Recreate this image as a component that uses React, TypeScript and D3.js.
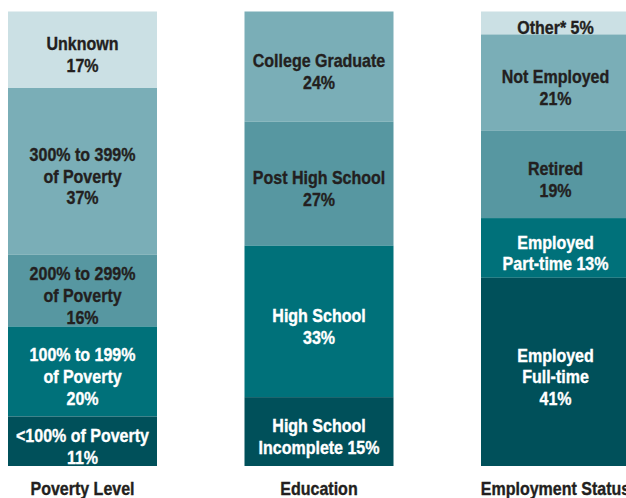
import React from "react";
import * as d3 from "d3";

const categories = ["Poverty Level", "Education", "Employment Status"];

// values listed bottom-to-top
const povertyValues = [11, 20, 16, 37, 17];
const povertyLabels = [
  ["<100% of Poverty", "11%"],
  ["100% to 199%", "of Poverty", "20%"],
  ["200% to 299%", "of Poverty", "16%"],
  ["300% to 399%", "of Poverty", "37%"],
  ["Unknown", "17%"],
];
const educationValues = [15, 33, 27, 24];
const educationLabels = [
  ["High School", "Incomplete 15%"],
  ["High School", "33%"],
  ["Post High School", "27%"],
  ["College Graduate", "24%"],
];
const employmentValues = [41, 13, 19, 21, 5];
const employmentLabels = [
  ["Employed", "Full-time", "41%"],
  ["Employed", "Part-time 13%"],
  ["Retired", "19%"],
  ["Not Employed", "21%"],
  ["Other* 5%"],
];

const shadeColors = ["#00505a", "#00717a", "#5797a1", "#7aaeb7", "#cbe0e4"];
const textColors = ["#ffffff", "#ffffff", "#231f20", "#231f20", "#231f20"];

const W = 626;
const H = 498;
const FONT = "'Liberation Sans', Arial, sans-serif";
const FS = 18;
const SX = 0.89;
const LH = 21.7;
const CAP = 13;

export default function App() {
  const columns = [
    { name: categories[0], values: povertyValues, labels: povertyLabels },
    { name: categories[1], values: educationValues, labels: educationLabels },
    { name: categories[2], values: employmentValues, labels: employmentLabels },
  ];
  const x = d3.scaleBand<string>().domain(categories).range([8, 630]).paddingInner(0.37);
  const bw = x.bandwidth();

  return (
    <svg
      width={W}
      height={H}
      style={{ position: "absolute", left: 0, top: 0, background: "#fff" }}
      fontFamily={FONT}
      fontWeight="bold"
    >
      {columns.map((col) => {
        const total = d3.sum(col.values);
        const y = d3.scaleLinear().domain([0, total]).range([466, 11.5]);
        const cum = d3.cumsum(col.values);
        const segs = col.values.map((v, i) => ({
          i,
          y0: cum[i] - v,
          y1: cum[i],
          lines: col.labels[i],
        }));
        const x0 = x(col.name)!;
        const cx = x0 + bw / 2;
        return (
          <g key={col.name}>
            {segs
              .slice()
              .reverse()
              .map((s) => {
                const top = y(s.y1);
                const bot = y(s.y0);
                const mid = (top + bot) / 2;
                const n = s.lines.length;
                const b1 = mid + 5 - ((n - 1) * LH - CAP) / 2;
                return (
                  <g key={s.i}>
                    <rect x={x0} y={top} width={bw} height={bot - top} fill={shadeColors[s.i]} />
                    <text
                      transform={`translate(${cx},0) scale(${SX},1)`}
                      textAnchor="middle"
                      fontSize={FS}
                      fill={textColors[s.i]}
                      stroke={textColors[s.i]}
                      strokeWidth={0.35}
                    >
                      {s.lines.map((ln, k) => (
                        <tspan key={k} x={0} y={b1 + k * LH}>
                          {ln}
                        </tspan>
                      ))}
                    </text>
                  </g>
                );
              })}
            <text
              transform={`translate(${cx},495) scale(${SX},1)`}
              textAnchor="middle"
              fontSize={FS}
              fill="#231f20"
              stroke="#231f20"
              strokeWidth={0.35}
            >
              {col.name}
            </text>
          </g>
        );
      })}
    </svg>
  );
}
